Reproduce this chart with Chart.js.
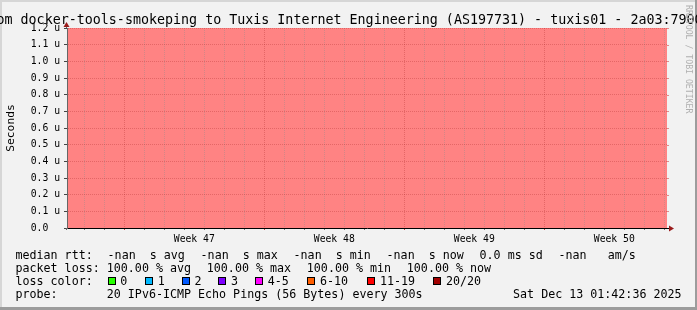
<!DOCTYPE html>
<html>
<head>
<meta charset="utf-8">
<title>smokeping - tuxis01</title>
<script src="https://cdn.jsdelivr.net/npm/chart.js@4.4.1/dist/chart.umd.min.js"></script>
<style>
    html, body { margin: 0; padding: 0; background: #f2f2f2; }
    #wrap { width: 697px; height: 310px; }
</style>
</head>
<body>
<div id="wrap"><canvas id="smoke" width="697" height="310"></canvas></div>
<script>
// Smokeping graph, last 30 days, target was down the whole time

// x axis: days since the left edge of the graph
const graphDays = 30;
const firstMidnight = 0.865;
const weekStarts = [2.865, 9.865, 16.865, 23.865];
const weekLabels = ['Week 47', 'Week 48', 'Week 49', 'Week 50'];

// y axis in microseconds
const yTicks = [0, 0.1, 0.2, 0.3, 0.4, 0.5, 0.6, 0.7, 0.8, 0.9, 1.0, 1.1, 1.2];
const yTickLabels = ['0.0  ', '0.1 u', '0.2 u', '0.3 u', '0.4 u', '0.5 u', '0.6 u',
    '0.7 u', '0.8 u', '0.9 u', '1.0 u', '1.1 u', '1.2 u'];

// no replies at all: the whole range is shaded
const lossDays = [0, 30];
const lossLevel = [1.2, 1.2];

// legend
const titleText = 'om docker-tools-smokeping to Tuxis Internet Engineering (AS197731) - tuxis01 - 2a03:7900';
const medianRow = ['-nan  s avg', '-nan  s max', '-nan  s min', '-nan  s now', '0.0 ms sd', '-nan   am/s'];
const lossRow = ['100.00 % avg', '100.00 % max', '100.00 % min', '100.00 % now'];
const lossColorLabels = ['0', '1', '2', '3', '4-5', '6-10', '11-19', '20/20'];
const lossColors = ['#26ff00', '#00b8ff', '#0059ff', '#7e00ff', '#ff00ff', '#ff5e00', '#ff0000', '#a10000'];
const probeText = '20 IPv6-ICMP Echo Pings (56 Bytes) every 300s';
const stampText = 'Sat Dec 13 01:42:36 2025';

const MONO = '"DejaVu Sans Mono", monospace';
const PINK = '#ff8383';
const MINOR_GRID = 'rgba(140,140,140,0.38)';
const MAJOR_GRID = 'rgba(170,40,40,0.32)';
const ARROW = '#9a1c1c';

// where the legend boxes sit on the "loss color" line
const lossBoxX = [107.5, 145, 181.7, 218.4, 255, 307.3, 367.3, 433.3];

function near(a, b) {
    return Math.abs(a - b) < 0.001;
}

// day grid lines plus the week label positions (half way through each week)
function buildXTicks() {
    const ticks = [];
    for (let d = firstMidnight; d < graphDays; d += 1) {
        ticks.push(d);
    }
    weekStarts.forEach(w => ticks.push(w + 3.5));
    return ticks.sort((a, b) => a - b);
}

function weekIndexAt(value) {
    return weekStarts.findIndex(w => near(w + 3.5, value));
}

function xGridColor(ctx) {
    const v = ctx.tick ? ctx.tick.value : null;
    if (v === null || weekIndexAt(v) >= 0) return 'transparent';
    if (weekStarts.some(w => near(w, v))) return MAJOR_GRID;
    return MINOR_GRID;
}

function xTickColor(ctx) {
    const v = ctx.tick ? ctx.tick.value : null;
    if (v === null || weekIndexAt(v) >= 0) return 'transparent';
    if (weekStarts.some(w => near(w, v))) return '#d04040';
    return '#777';
}

// frame, title, legend and the little arrows rrdtool draws
const rrdDecor = {
    id: 'rrdDecor',
    beforeDraw(chart) {
        const ctx = chart.ctx;
        const w = chart.width, h = chart.height;
        ctx.save();
        ctx.fillStyle = '#f2f2f2';
        ctx.fillRect(0, 0, w, h);
        ctx.fillStyle = '#d6d6d6';
        ctx.fillRect(0, 0, w, 2);
        ctx.fillRect(0, 0, 2, h);
        ctx.fillStyle = '#9c9c9c';
        ctx.fillRect(0, h - 3, w, 3);
        ctx.fillRect(w - 2, 0, 2, h);
        ctx.restore();
    },
    afterDraw(chart) {
        const ctx = chart.ctx;
        const area = chart.chartArea;
        ctx.save();

        // axis extensions and arrows
        ctx.strokeStyle = '#666';
        ctx.lineWidth = 1;
        ctx.beginPath();
        ctx.moveTo(area.left - 0.5, area.top);
        ctx.lineTo(area.left - 0.5, area.top - 4);
        ctx.moveTo(area.left - 0.5, area.bottom);
        ctx.lineTo(area.left - 0.5, area.bottom + 2);
        ctx.stroke();
        ctx.strokeStyle = '#000';
        ctx.beginPath();
        ctx.moveTo(area.right, area.bottom + 0.5);
        ctx.lineTo(area.right + 3, area.bottom + 0.5);
        ctx.stroke();

        ctx.fillStyle = ARROW;
        ctx.beginPath();
        ctx.moveTo(area.left - 0.5, area.top - 6);
        ctx.lineTo(area.left - 3.5, area.top - 1);
        ctx.lineTo(area.left + 2.5, area.top - 1);
        ctx.closePath();
        ctx.fill();
        ctx.beginPath();
        ctx.moveTo(area.right + 7, area.bottom + 0.5);
        ctx.lineTo(area.right + 2, area.bottom - 2.5);
        ctx.lineTo(area.right + 2, area.bottom + 3.5);
        ctx.closePath();
        ctx.fill();

        // major y grid pokes out on the right
        const y = chart.scales.y;
        ctx.strokeStyle = 'rgba(210,70,70,0.6)';
        yTicks.slice(1).forEach(v => {
            const py = Math.round(y.getPixelForValue(v)) + 0.5;
            ctx.beginPath();
            ctx.moveTo(area.right, py);
            ctx.lineTo(area.right + 2, py);
            ctx.stroke();
        });

        // title
        ctx.fillStyle = '#000';
        ctx.textAlign = 'left';
        ctx.textBaseline = 'alphabetic';
        ctx.font = '13.33px ' + MONO;
        ctx.fillText(titleText, -3.5, 24);

        // watermark
        ctx.save();
        ctx.translate(688.5, 5);
        ctx.rotate(Math.PI / 2);
        ctx.font = '8.2px ' + MONO;
        ctx.fillStyle = '#b0b0b0';
        ctx.textBaseline = 'middle';
        ctx.fillText('RRDTOOL / TOBI OETIKER', 0, 0);
        ctx.restore();

        // legend
        ctx.font = '11.67px ' + MONO;
        ctx.fillStyle = '#000';
        const gap = 15.8;
        const rows = [259, 272, 285, 298];

        ctx.fillText('median rtt:', 15.5, rows[0]);
        let x = 107.6;
        medianRow.forEach(s => {
            ctx.fillText(s, x, rows[0]);
            x += ctx.measureText(s).width + gap;
        });

        ctx.fillText('packet loss:', 15.5, rows[1]);
        x = 106.8;
        lossRow.forEach(s => {
            ctx.fillText(s, x, rows[1]);
            x += ctx.measureText(s).width + gap;
        });

        ctx.fillText('loss color:', 15.5, rows[2]);
        lossColorLabels.forEach((label, i) => {
            const bx = Math.round(lossBoxX[i]);
            ctx.fillStyle = lossColors[i];
            ctx.fillRect(bx, rows[2] - 8, 8, 8);
            ctx.strokeStyle = '#000';
            ctx.strokeRect(bx + 0.5, rows[2] - 7.5, 7, 7);
            ctx.fillStyle = '#000';
            ctx.fillText(label, lossBoxX[i] + 12.7, rows[2]);
        });

        ctx.fillText('probe:', 15.5, rows[3]);
        ctx.fillText(probeText, 106.8, rows[3]);
        ctx.textAlign = 'right';
        ctx.fillText(stampText, 681.5, rows[3]);

        ctx.restore();
    }
};

function initializeGraph() {
    const ctx = document.getElementById('smoke');
    const xTicks = buildXTicks();

    new Chart(ctx, {
        type: 'line',
        data: {
            datasets: [{
                label: 'loss',
                data: lossDays.map((d, i) => ({ x: d, y: lossLevel[i] })),
                backgroundColor: PINK,
                borderWidth: 0,
                pointRadius: 0,
                fill: 'origin'
            }]
        },
        options: {
            responsive: false,
            animation: false,
            devicePixelRatio: 1,
            layout: {
                padding: { left: 0, right: 30, top: 28, bottom: 0 }
            },
            plugins: {
                legend: { display: false },
                tooltip: { enabled: false }
            },
            scales: {
                x: {
                    type: 'linear',
                    min: 0,
                    max: graphDays,
                    afterBuildTicks: scale => {
                        scale.ticks = xTicks.map(v => ({ value: v }));
                    },
                    afterFit: scale => {
                        scale.height = 82;
                    },
                    grid: {
                        z: 1,
                        color: xGridColor,
                        tickColor: xTickColor,
                        tickLength: 2,
                        tickBorderDash: []
                    },
                    border: { z: 2, color: '#000', width: 1, dash: [1, 1] },
                    ticks: {
                        autoSkip: false,
                        maxRotation: 0,
                        minRotation: 0,
                        padding: 4,
                        color: '#000',
                        font: { family: MONO, size: 9.75 },
                        callback: value => {
                            const i = weekIndexAt(value);
                            return i >= 0 ? weekLabels[i] : '';
                        }
                    }
                },
                y: {
                    type: 'linear',
                    min: 0,
                    max: 1.2,
                    afterBuildTicks: scale => {
                        scale.ticks = yTicks.map(v => ({ value: v }));
                    },
                    afterFit: scale => {
                        scale.width = 67;
                    },
                    grid: {
                        z: 1,
                        color: c => (c.tick && c.tick.value === 0 ? 'transparent' : MAJOR_GRID),
                        tickColor: '#444',
                        tickLength: 3,
                        tickBorderDash: []
                    },
                    border: { z: 2, color: '#666', width: 1, dash: [1, 1] },
                    ticks: {
                        padding: 4,
                        color: '#000',
                        font: { family: MONO, size: 9.75 },
                        callback: (value, index) => yTickLabels[index]
                    },
                    title: {
                        display: true,
                        text: 'Seconds',
                        color: '#000',
                        font: { family: MONO, size: 11.3 },
                        padding: { top: 4, bottom: 0 }
                    }
                }
            }
        },
        plugins: [rrdDecor]
    });
}

document.addEventListener('DOMContentLoaded', initializeGraph);
</script>
</body>
</html>
